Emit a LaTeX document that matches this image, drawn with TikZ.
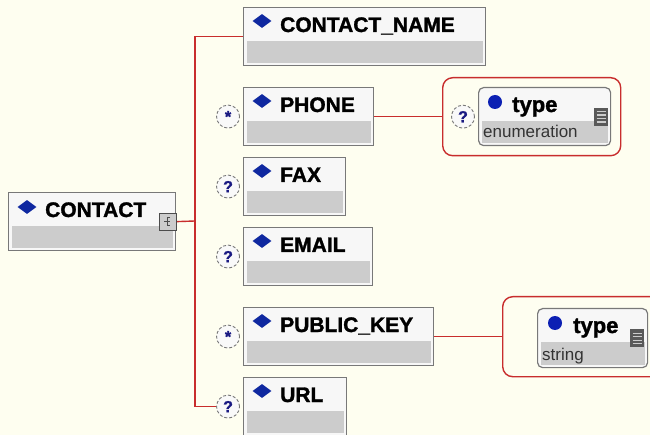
\documentclass[tikz,border=0pt]{standalone}
\usepackage{fontspec}
\setsansfont{Liberation Sans}[BoldFeatures={FakeBold=1.5}]
\usetikzlibrary{positioning, shapes.geometric}

\definecolor{paper}{RGB}{254,254,240}
\definecolor{boxtop}{RGB}{247,247,247}
\definecolor{boxbot}{RGB}{204,204,204}
\definecolor{boxline}{RGB}{120,120,120}
\definecolor{treered}{RGB}{200,45,45}
\definecolor{markblue}{RGB}{15,40,160}
\definecolor{cardtext}{RGB}{25,25,130}

\begin{document}
\begin{tikzpicture}[
        x=1pt, y=-1pt,
        elem/.style={draw=boxline, line width=1.2pt, fill=boxtop, minimum height=58pt, inner sep=0pt, anchor=north west,
            path picture={\fill[boxbot, sharp corners] ([xshift=3pt,yshift=3pt]path picture bounding box.south west) rectangle ([xshift=-3pt,yshift=-4pt]path picture bounding box.east);}},
        typebox/.style={elem, rounded corners=5pt},
        elemname/.style={font=\sffamily\bfseries\fontsize{21}{24}\selectfont, anchor=base west, inner sep=0pt},
        typename/.style={font=\sffamily\bfseries\fontsize{22}{24}\selectfont, anchor=base west, inner sep=0pt},
        typeinfo/.style={font=\sffamily\fontsize{17}{20}\selectfont, anchor=base west, inner sep=0pt, text=black!80},
        diam/.style={diamond, fill=markblue, minimum width=19pt, minimum height=14pt, inner sep=0pt},
        dot/.style={circle, fill=markblue!80!blue, minimum size=14pt, inner sep=0pt},
        card/.style={circle, draw=boxline, densely dashed, line width=0.9pt, fill=white!95!gray, minimum size=23pt, inner sep=0pt, text=cardtext, font=\sffamily\bfseries\fontsize{16}{16}\selectfont},
        group/.style={draw=treered, line width=1.4pt, rounded corners=10pt, anchor=north west, inner sep=0pt},
        tree/.style={draw=treered, line width=1.4pt},
        seqicon/.style={draw=black!70, fill=boxbot, minimum size=17pt, inner sep=0pt, line width=0.8pt},
        enumicon/.style={fill=black!65, minimum width=14pt, minimum height=18pt, inner sep=0pt},
        iconline/.style={draw=black!20, line width=1.2pt},
    ]
    \useasboundingbox (0,0) rectangle (650,435);
    \fill[paper] (0,0) rectangle (650,435);
    \clip (0,0) rectangle (650,435);

    %% ===== Root element =====
    \node[elem, minimum width=167pt] (contact) at (8,192) {};
    \node[diam] (contact-d) at ([xshift=19pt,yshift=-15pt]contact.north west) {};
    \node[elemname] (contact-t) at ([xshift=37pt,yshift=-25pt]contact.north west) {CONTACT};
    \node[seqicon] (seq) at ([xshift=-8pt]contact.east) {};
    \draw[black!70, line width=0.8pt] ([xshift=2pt,yshift=4pt]seq.center) -- ([xshift=-1pt,yshift=4pt]seq.center) -- ([xshift=-1pt,yshift=-4pt]seq.center) -- ([xshift=2pt,yshift=-4pt]seq.center)
        ([xshift=-1pt]seq.center) -- ([xshift=-4pt]seq.center) ([xshift=-1pt]seq.center) -- ([xshift=2pt]seq.center);

    %% ===== Child elements =====
    \node[elem, minimum width=242pt] (cname) at (243,7) {};
    \node[elem, minimum width=130pt] (phone) at (243,87) {};
    \node[elem, minimum width=102pt] (fax) at (243,157) {};
    \node[elem, minimum width=129pt] (email) at (243,227) {};
    \node[elem, minimum width=190pt] (pkey) at (243,307) {};
    \node[elem, minimum width=103pt] (url) at (243,377) {};

    \node[diam] (cname-d) at ([xshift=19pt,yshift=-14pt]cname.north west) {};
    \node[diam] (phone-d) at ([xshift=19pt,yshift=-14pt]phone.north west) {};
    \node[diam] (fax-d) at ([xshift=19pt,yshift=-14pt]fax.north west) {};
    \node[diam] (email-d) at ([xshift=19pt,yshift=-14pt]email.north west) {};
    \node[diam] (pkey-d) at ([xshift=19pt,yshift=-14pt]pkey.north west) {};
    \node[diam] (url-d) at ([xshift=19pt,yshift=-14pt]url.north west) {};

    \node[elemname] (cname-t) at ([xshift=37pt,yshift=-25pt]cname.north west) {CONTACT\_NAME};
    \node[elemname] (phone-t) at ([xshift=37pt,yshift=-25pt]phone.north west) {PHONE};
    \node[elemname] (fax-t) at ([xshift=37pt,yshift=-25pt]fax.north west) {FAX};
    \node[elemname] (email-t) at ([xshift=37pt,yshift=-25pt]email.north west) {EMAIL};
    \node[elemname] (pkey-t) at ([xshift=37pt,yshift=-25pt]pkey.north west) {PUBLIC\_KEY};
    \node[elemname] (url-t) at ([xshift=37pt,yshift=-25pt]url.north west) {URL};

    %% Cardinality marks
    \node[card, left=3pt of phone] (phone-card) {*};
    \node[card, left=3pt of fax] (fax-card) {?};
    \node[card, left=3pt of email] (email-card) {?};
    \node[card, left=3pt of pkey] (pkey-card) {*};
    \node[card, left=3pt of url] (url-card) {?};

    %% Sequence tree
    \coordinate (fork) at (195,221);
    \draw[tree] (seq.east) -- (fork);
    \draw[tree] (cname.west) -| (fork) |- (url-card.west);

    %% ===== PHONE attribute =====
    \node[group, minimum width=178pt, minimum height=78pt] (phone-grp) at (442,77) {};
    \draw[tree] (phone.east) -- (phone.east -| phone-grp.west);
    \node[card] (ptype-card) at ([xshift=21pt]phone-grp.west) {?};
    \node[typebox, minimum width=132pt] (ptype) at (478,87) {};
    \node[dot] (ptype-d) at ([xshift=17pt,yshift=-15pt]ptype.north west) {};
    \node[typename] (ptype-t) at ([xshift=34pt,yshift=-25pt]ptype.north west) {type};
    \node[typeinfo] (ptype-v) at ([xshift=5pt,yshift=-51pt]ptype.north west) {enumeration};
    \node[enumicon] (ptype-i) at ([xshift=-10pt]ptype.east) {};

    %% ===== PUBLIC_KEY attribute =====
    \node[group, minimum width=200pt, minimum height=80pt] (ktype-grp) at (502,296) {};
    \draw[tree] (pkey.east) -- (pkey.east -| ktype-grp.west);
    \node[typebox, minimum width=110pt, minimum height=59pt] (ktype) at (537,308) {};
    \node[dot] (ktype-d) at ([xshift=18pt,yshift=-15pt]ktype.north west) {};
    \node[typename] (ktype-t) at ([xshift=36pt,yshift=-25pt]ktype.north west) {type};
    \node[typeinfo] (ktype-v) at ([xshift=5pt,yshift=-52pt]ktype.north west) {string};
    \node[enumicon] (ktype-i) at ([xshift=-11pt]ktype.east) {};

    %% icon stripes
    \foreach \ic in {ptype-i, ktype-i}
        \foreach \k in {-5.5,-2,1.5,5}
            \draw[iconline] ([xshift=-4.5pt,yshift=\k pt]\ic.center) -- ([xshift=4.5pt,yshift=\k pt]\ic.center);

\end{tikzpicture}
\end{document}
